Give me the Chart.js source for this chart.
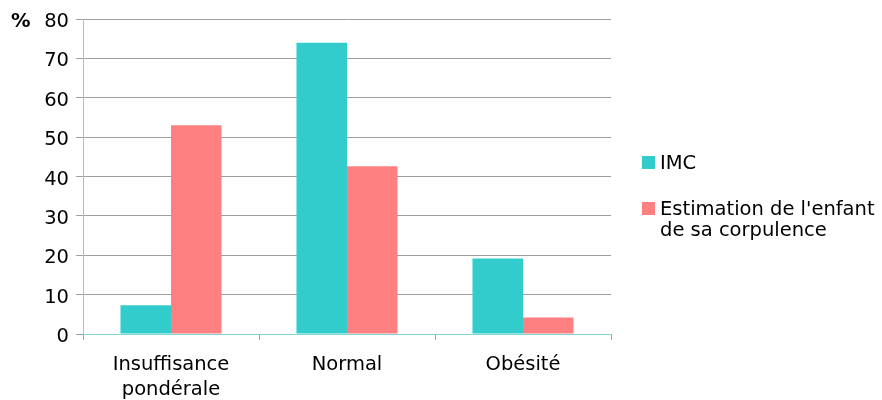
<!DOCTYPE html>
<html>
<head>
<meta charset="utf-8">
<script src="https://cdn.jsdelivr.net/npm/chart.js@4.4.1/dist/chart.umd.min.js"></script>
<style>
  html, body { margin: 0; padding: 0; background: #ffffff; }
  #wrap { position: relative; width: 882px; height: 400px; }
  #legend { position: absolute; left: 642px; top: 0; font-family: "DejaVu Sans", sans-serif; font-size: 19.5px; color: #000; }
  .item { position: absolute; left: 0; white-space: nowrap; }
  .sw { position: absolute; left: 0; width: 13px; height: 13px; }
  .txt { position: absolute; left: 18px; line-height: 21px; }
</style>
</head>
<body>
<div id="wrap">
  <canvas id="c" width="882" height="400"></canvas>
  <div id="legend"></div>
</div>
<script>
// ---- data ----
const categories = [['Insuffisance', 'pondérale'], 'Normal', 'Obésité'];
const seriesLabels = ['IMC', ["Estimation de l'enfant", 'de sa corpulence']];
const imcValues = [7.3, 74, 19.2];
const estimationValues = [53, 42.6, 4.2];
const yMin = 0, yMax = 80, yStep = 10;
const yUnit = '%';
const seriesColors = ['#33CCCC', '#FF8080'];

const FONT = { family: '"DejaVu Sans", sans-serif', size: 19.5 };
const AXIS = '#80d6d6';
const GRID = '#a0a0a0';

const unitPlugin = {
  id: 'unit',
  afterDraw(chart) {
    const ctx = chart.ctx;
    ctx.save();
    ctx.font = 'bold 19.5px "DejaVu Sans", sans-serif';
    ctx.fillStyle = '#000';
    ctx.textBaseline = 'middle';
    ctx.textAlign = 'left';
    ctx.fillText(yUnit, 11, chart.scales.y.getPixelForValue(yMax) + 3);
    ctx.restore();
  }
};

new Chart(document.getElementById('c'), {
  type: 'bar',
  data: {
    labels: categories,
    datasets: [
      { label: 'IMC', data: imcValues, backgroundColor: seriesColors[0], borderWidth: 0 },
      { label: seriesLabels[1].join(' '), data: estimationValues, backgroundColor: seriesColors[1], borderWidth: 0 }
    ]
  },
  options: {
    responsive: false,
    animation: false,
    events: [],
    categoryPercentage: 0.574,
    barPercentage: 1.0,
    layout: { padding: { left: 0, right: 271, top: 19, bottom: 0 } },
    plugins: { legend: { display: false }, tooltip: { enabled: false } },
    scales: {
      x: {
        afterFit(s) { s.height = 66; },
        grid: { offset: true, drawOnChartArea: false, drawTicks: true, tickLength: 6, color: GRID },
        border: { color: AXIS, width: 1 },
        ticks: { font: { ...FONT, lineHeight: 1.25 }, color: '#000', padding: 13, maxRotation: 0 }
      },
      y: {
        min: yMin, max: yMax,
        afterFit(s) { s.width = 83; },
        grid: { color: GRID, tickLength: 7, drawTicks: true },
        border: { color: AXIS, width: 1 },
        ticks: { stepSize: yStep, font: FONT, color: '#000', padding: 7, labelOffset: 3 }
      }
    }
  },
  plugins: [unitPlugin]
});

// HTML legend built from series labels
const legend = document.getElementById('legend');
const tops = [152, 198];
seriesLabels.forEach((lab, i) => {
  const item = document.createElement('div');
  item.className = 'item';
  item.style.top = tops[i] + 'px';
  const sw = document.createElement('div');
  sw.className = 'sw';
  sw.style.background = seriesColors[i];
  sw.style.top = '4px';
  const txt = document.createElement('div');
  txt.className = 'txt';
  const lines = Array.isArray(lab) ? lab : [lab];
  lines.forEach((l, j) => {
    if (j) txt.appendChild(document.createElement('br'));
    txt.appendChild(document.createTextNode(l));
  });
  item.appendChild(sw);
  item.appendChild(txt);
  legend.appendChild(item);
});
</script>
</body>
</html>
